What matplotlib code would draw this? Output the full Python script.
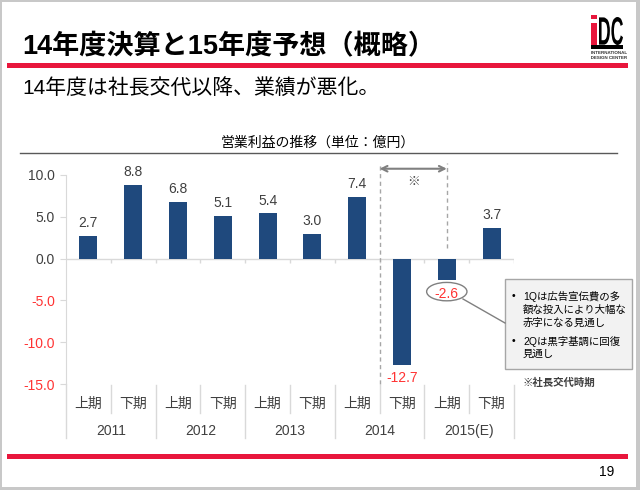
import matplotlib.pyplot as plt
from matplotlib.patches import Rectangle, Ellipse, PathPatch
from matplotlib.lines import Line2D
from matplotlib.textpath import TextPath
from matplotlib.font_manager import FontProperties
from matplotlib.transforms import Affine2D

plt.rcParams['font.family'] = ['Liberation Sans', 'Noto Sans CJK JP']

# data
halves = ['上期', '下期'] * 5
years = ['2011', '2012', '2013', '2014', '2015(E)']
profit = [2.7, 8.8, 6.8, 5.1, 5.4, 3.0, 7.4, -12.7, -2.6, 3.7]
yticks = [10, 5, 0, -5, -10, -15]
note_lines = [('•', '1Qは広告宣伝費の多'), ('', '額な投入により大幅な'), ('', '赤字になる見通し'),
              ('•', '2Qは黒字基調に回復'), ('', '見通し')]

W, H = 640, 490
BLUE = '#1f497d'
RED = '#ff3333'
GRID = '#d9d9d9'
DARK = '#404040'


def fx(x):
    return x / W


def fy(y):
    return 1 - y / H


fig = plt.figure(figsize=(6.4, 4.9), dpi=100)
fig.patch.set_facecolor('#c8c8c8')
fig.add_artist(Rectangle((fx(2), fy(487)), 634 / W, 485 / H, transform=fig.transFigure,
                         facecolor='white', edgecolor='none', zorder=-1))

# header
fig.text(fx(22), fy(47), '14年度決算と15年度予想（概略）', fontsize=19.5, weight='bold',
         va='center', color='black')
fig.add_artist(Rectangle((fx(7), fy(68)), 621 / W, 5 / H, transform=fig.transFigure,
                         facecolor='#e8163c', edgecolor='none'))
fig.text(fx(22), fy(88), '14年度は社長交代以降、業績が悪化。', fontsize=15, va='center', color='black')
fig.add_artist(Rectangle((fx(7), fy(459)), 621 / W, 5 / H, transform=fig.transFigure,
                         facecolor='#e8163c', edgecolor='none'))
fig.text(fx(607), fy(472), '19', fontsize=10, ha='center', va='center', color='black')


def logo(s, x0, y0, x1, y1, color, weight='bold'):
    tp = TextPath((0, 0), s, size=10, prop=FontProperties(family='Liberation Sans', weight=weight))
    bb = tp.get_extents()
    tr = (Affine2D().translate(-bb.x0, -bb.y0)
          .scale((x1 - x0) / bb.width, (y1 - y0) / bb.height)
          .translate(x0, H - y1).scale(1 / W, 1 / H) + fig.transFigure)
    fig.add_artist(PathPatch(tp, transform=tr, facecolor=color, edgecolor='none'))


logo('i', 591, 15, 597, 45, '#e8163c')
logo('DC', 599, 17, 623, 45, 'black')
fig.add_artist(Rectangle((fx(591), fy(49.5)), 32 / W, 4 / H, transform=fig.transFigure,
                         facecolor='black', edgecolor='none'))
logo('INTERNATIONAL', 591, 51, 627, 54, '#333333')
logo('DESIGN CENTER', 591, 56, 627, 59, '#333333')

# chart title
fig.text(fx(318), fy(143), '営業利益の推移（単位：億円）', fontsize=10, ha='center', va='center', color='black')
fig.add_artist(Line2D([fx(20), fx(617)], [fy(153.5), fy(153.5)], transform=fig.transFigure,
                      color='#595959', lw=1))

# axes
ax = fig.add_axes([fx(66), fy(384), 448 / W, 209 / H])
ax.patch.set_alpha(0)
x = list(range(len(profit)))
ax.bar(x, profit, width=0.4, color=BLUE, zorder=3)
ax.set_xlim(-0.5, len(profit) - 0.5)
ax.set_ylim(-15, 10)
for s in ['top', 'right', 'bottom']:
    ax.spines[s].set_visible(False)
ax.spines['left'].set_color(GRID)
ax.set_xticks([])
ax.set_yticks(yticks)
ax.set_yticklabels([f'{v:.1f}' for v in yticks], fontsize=10)
for lab, v in zip(ax.get_yticklabels(), yticks):
    lab.set_color(RED if v < 0 else DARK)
ax.tick_params(axis='y', color=GRID, length=4, pad=4)
ax.axhline(0, color=GRID, lw=1, zorder=2)
ax.vlines([b + 0.5 for b in x], -0.5, 0, color=GRID, lw=1)

for i, v in enumerate(profit):
    if v >= 0:
        ax.annotate(f'{v:.1f}', (i, v), xytext=(0, 4), textcoords='offset points',
                    ha='center', va='bottom', fontsize=10, color=DARK)
    else:
        ax.annotate(f'{v:.1f}', (i, v), xytext=(0, -4.5), textcoords='offset points',
                    ha='center', va='top', fontsize=10, color=RED)

# circle around the 2015 first-half value
i_mark = 8
ax.add_patch(Ellipse((i_mark, profit[i_mark] - 1.35), 0.9, 2.2, facecolor='white',
                     edgecolor='#808080', lw=1, clip_on=False, zorder=4))
ax.texts[i_mark].set_zorder(5)

# category labels below the axis
xt = ax.get_xaxis_transform()


def ya(ypx):
    return (384 - ypx) / 209


for i, h in enumerate(halves):
    ax.text(i, ya(404), h, transform=xt, ha='center', va='center', fontsize=10, color=DARK)
for j, yr in enumerate(years):
    ax.text(2 * j + 0.5, ya(431), yr, transform=xt, ha='center', va='center', fontsize=10, color=DARK)
ax.plot([-0.5, -0.5], [0, ya(438)], transform=xt, color=GRID, lw=1, clip_on=False)
for b in x:
    bx = b + 0.5
    bottom = ya(438) if b % 2 == 1 else ya(413)
    ax.plot([bx, bx], [ya(385), bottom], transform=xt, color=GRID, lw=1, clip_on=False)

# CEO change period marker
ax.plot([6.5, 6.5], [-15, 11.45], ls=(0, (3, 2.5)), color='#a6a6a6', lw=1, clip_on=False)
ax.plot([8, 8], [1.3, 11.45], ls=(0, (3, 2.5)), color='#a6a6a6', lw=1, clip_on=False)
ax.annotate('', xy=(6.5, 10.75), xytext=(8, 10.75),
            arrowprops=dict(arrowstyle='<->', color='#808080', lw=1.5, shrinkA=0, shrinkB=0),
            annotation_clip=False)
ax.text(7.25, 9.2, '※', ha='center', va='center', fontsize=9, color=DARK)

# note box
fig.add_artist(Line2D([fx(463), fx(505)], [fy(299), fy(323)], transform=fig.transFigure,
                      color='#808080', lw=1))
fig.add_artist(Rectangle((fx(505), fy(369)), 127 / W, 90 / H, transform=fig.transFigure,
                         facecolor='#f2f2f2', edgecolor='#a6a6a6', lw=1))
ys = [296, 309.5, 323, 341, 354]
for (b, t), yy in zip(note_lines, ys):
    if b:
        fig.text(fx(512), fy(yy), b, fontsize=7.5, va='center', color='black')
    fig.text(fx(523), fy(yy), t, fontsize=7.5, va='center', color='black')
fig.text(fx(523), fy(383), '※社長交代時期', fontsize=7.5, weight='bold', va='center', color=DARK)

fig.savefig('out.png', dpi=100, facecolor=fig.get_facecolor())
